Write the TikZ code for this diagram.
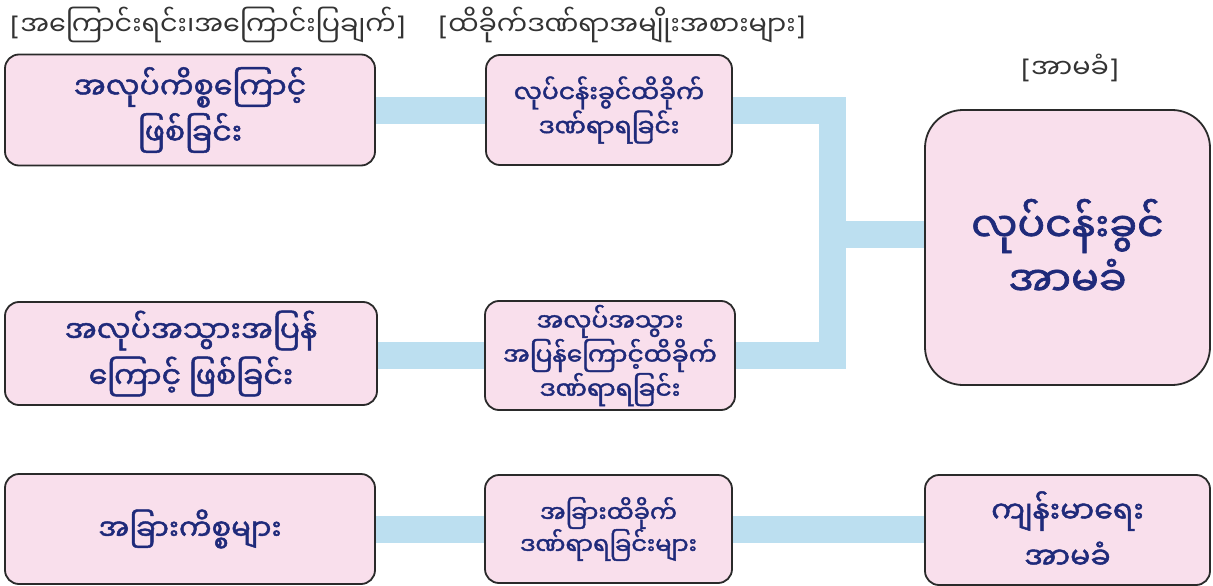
\documentclass[tikz,border=0pt]{standalone}
\usepackage{fontspec}
\newfontfamily\mm[Script=Myanmar]{Noto Sans Myanmar UI}
\newfontfamily\mmb[Script=Myanmar,FakeBold=1.6]{Noto Sans Myanmar UI}
\newfontfamily\brk{DejaVu Sans}[Scale=0.95]
\definecolor{boxfill}{HTML}{F9DFEC}
\definecolor{boxline}{HTML}{2A2A2A}
\definecolor{txtblue}{HTML}{1F2A7A}
\definecolor{barblue}{HTML}{BCDFF0}
\definecolor{headgray}{HTML}{333333}
\pgfdeclarelayer{background}
\pgfsetlayers{background,main}
\newcommand{\lb}{{\brk\fontseries{m}\selectfont[}}
\newcommand{\rb}{{\brk\fontseries{m}\selectfont]}}
\begin{document}
\begin{tikzpicture}[x=1pt,y=-1pt,
  box/.style={draw=boxline,line width=1.8pt,fill=boxfill,rounded corners=14pt,
    align=center,text=txtblue,inner sep=0pt},
  bar/.style={draw=barblue,line width=27pt,line join=miter,line cap=butt},
  head/.style={text=headgray,inner sep=0pt,font={\mm\fontsize{27}{30}\selectfont}},
  big/.style={font={\mmb\fontsize{30}{46}\selectfont}},
  mid/.style={font={\mmb\fontsize{25}{32}\selectfont}},
  huge/.style={font={\mmb\fontsize{41}{54}\selectfont}}]
\useasboundingbox (0,0) rectangle (1213,586);
\node[head] (h1) at (208,25) {\lb အကြောင်းရင်း၊အကြောင်းပြချက်\rb};
\node[head] (h2) at (622,25) {\lb ထိခိုက်ဒဏ်ရာအမျိုးအစားများ\rb};
\node[head] (h3) at (1070,68) {\lb အာမခံ\rb};

\node[box,big,minimum width=370pt,minimum height=111pt] (L1) at (190,110) {အလုပ်ကိစ္စကြောင့်\\ဖြစ်ခြင်း};
\node[box,mid,minimum width=246pt,minimum height=110pt] (M1) at (609,110) {လုပ်ငန်းခွင်ထိခိုက်\\ဒဏ်ရာရခြင်း};
\node[box,huge,minimum width=285pt,minimum height=275pt,rounded corners=38pt] (R1) at (1067.5,247.5) {လုပ်ငန်းခွင်\\အာမခံ};
\node[box,big,minimum width=372pt,minimum height=103pt] (L2) at (191,353.5) {အလုပ်အသွားအပြန်\\ကြောင့် ဖြစ်ခြင်း};
\node[box,minimum width=250pt,minimum height=109pt,font={\mmb\fontsize{25}{32}\selectfont}] (M2) at (610,355.5) {အလုပ်အသွား\\အပြန်ကြောင့်ထိခိုက်\\ဒဏ်ရာရခြင်း};
\node[box,minimum width=370pt,minimum height=110pt,font={\mmb\fontsize{29}{32}\selectfont}] (L3) at (190,529) {အခြားကိစ္စများ};
\node[box,minimum width=247pt,minimum height=108pt,font={\mmb\fontsize{24}{32}\selectfont}] (M3) at (608.5,529) {အခြားထိခိုက်\\ဒဏ်ရာရခြင်းများ};
\node[box,big,minimum width=285pt,minimum height=110pt] (R3) at (1067.5,530) {ကျန်းမာရေး\\အာမခံ};

\coordinate (T) at (832,234);
\begin{pgfonlayer}{background}
\draw[bar] (L1.east) -- (M1.west);
\draw[bar] (M1.east) -| (T) |- (M2.east);
\draw[bar] (T) -- (T -| R1.west);
\draw[bar] (L2.east |- M2.west) -- (M2.west);
\draw[bar] (L3.east |- M3.west) -- (M3.west);
\draw[bar] (M3.east) -- (M3.east -| R3.west);
\end{pgfonlayer}
\end{tikzpicture}
\end{document}
